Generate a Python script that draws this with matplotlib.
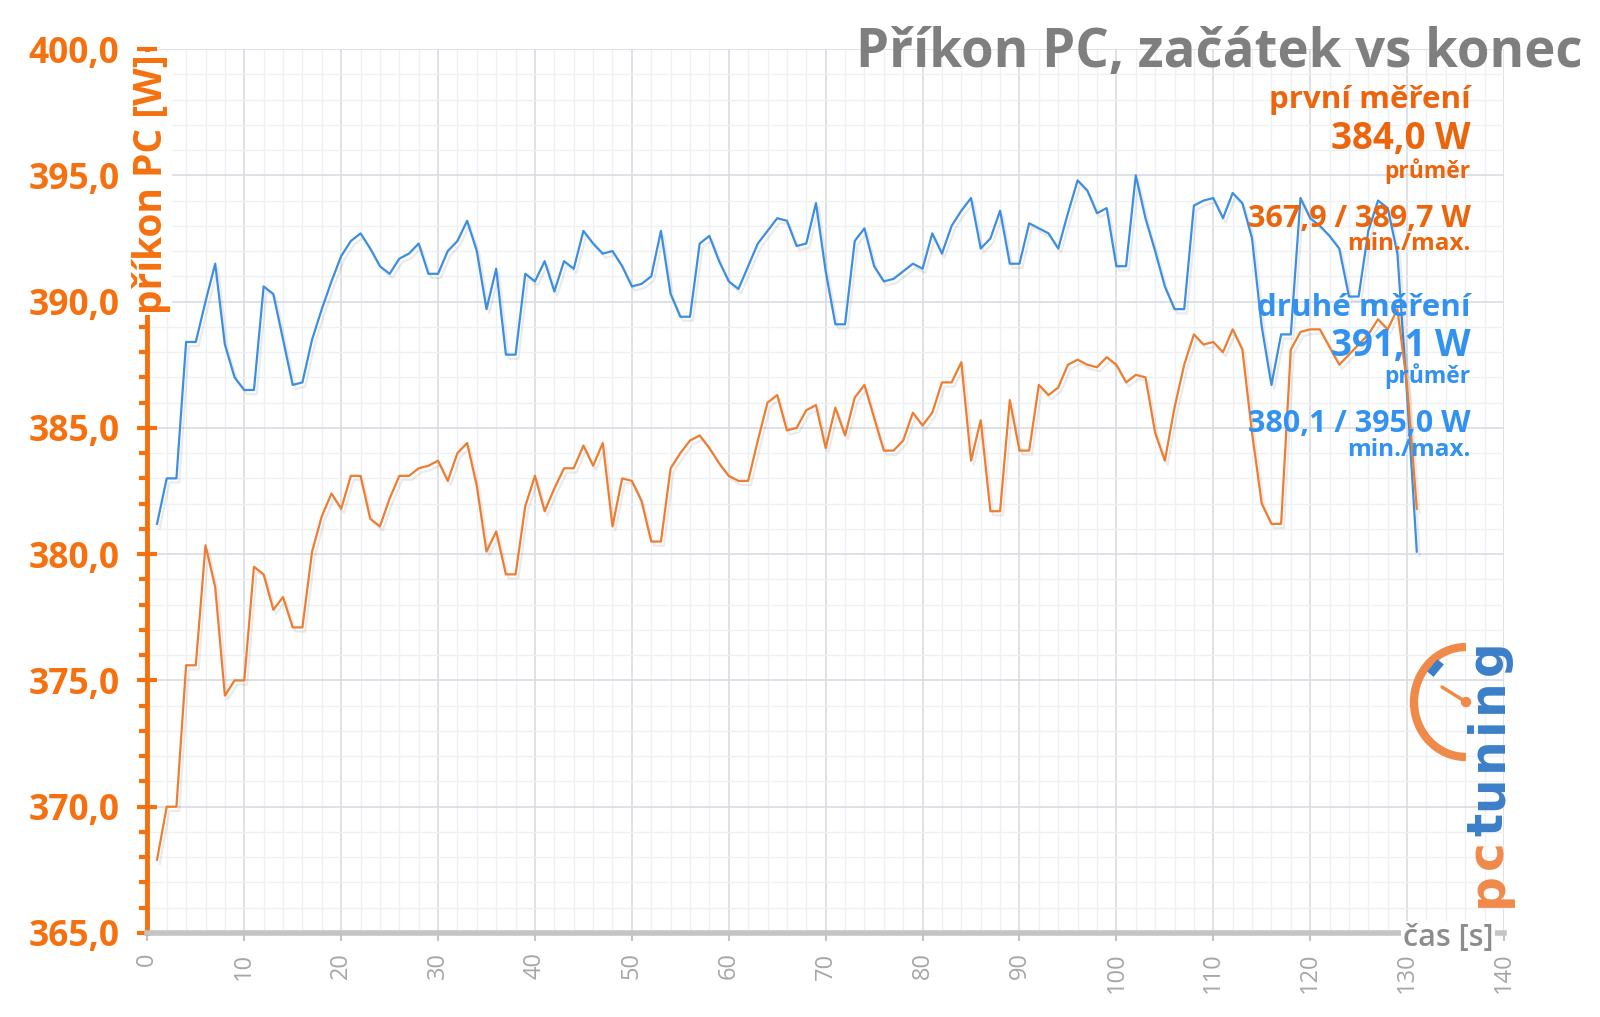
import matplotlib
matplotlib.use("Agg")
import matplotlib.pyplot as plt
import matplotlib.patheffects as pe
from matplotlib.patches import Arc, Circle
from matplotlib.ticker import MultipleLocator, FuncFormatter

plt.rcParams['font.family'] = ['Open Sans', 'DejaVu Sans']

# cas [s]
cas = list(range(1, 132))

# prvni mereni (orange)
prvni = [367.9, 370.0, 370.0, 375.6, 375.6, 380.35, 378.7, 374.4, 375.0, 375.0,
         379.5, 379.2, 377.8, 378.3, 377.1, 377.1, 380.1, 381.5, 382.4, 381.8,
         383.1, 383.1, 381.4, 381.1, 382.2, 383.1, 383.1, 383.4, 383.5, 383.7,
         382.9, 384.0, 384.4, 382.7, 380.1, 380.9, 379.2, 379.2, 381.9, 383.1,
         381.7, 382.6, 383.4, 383.4, 384.3, 383.5, 384.4, 381.1, 383.0, 382.9,
         382.1, 380.5, 380.5, 383.4, 384.0, 384.5, 384.7, 384.2, 383.6, 383.1,
         382.9, 382.9, 384.5, 386.0, 386.3, 384.9, 385.0, 385.7, 385.9, 384.2,
         385.8, 384.7, 386.2, 386.7, 385.4, 384.1, 384.1, 384.5, 385.6, 385.1,
         385.6, 386.8, 386.8, 387.6, 383.7, 385.3, 381.7, 381.7, 386.1, 384.1,
         384.1, 386.7, 386.3, 386.6, 387.5, 387.7, 387.5, 387.4, 387.8, 387.5,
         386.8, 387.1, 387.0, 384.8, 383.7, 385.8, 387.5, 388.7, 388.3, 388.4,
         388.0, 388.9, 388.1, 384.8, 382.0, 381.2, 381.2, 388.1, 388.8, 388.9,
         388.9, 388.2, 387.5, 387.9, 388.3, 388.7, 389.3, 388.9, 389.7, 386.7,
         381.8]

# druhe mereni (blue)
druhe = [381.2, 383.0, 383.0, 388.4, 388.4, 390.0, 391.5, 388.3, 387.0, 386.5,
         386.5, 390.6, 390.3, 388.5, 386.7, 386.8, 388.5, 389.7, 390.8, 391.8,
         392.4, 392.7, 392.1, 391.4, 391.1, 391.7, 391.9, 392.3, 391.1, 391.1,
         392.0, 392.4, 393.2, 392.0, 389.7, 391.3, 387.9, 387.9, 391.1, 390.8,
         391.6, 390.4, 391.6, 391.3, 392.8, 392.3, 391.9, 392.0, 391.4, 390.6,
         390.7, 391.0, 392.8, 390.3, 389.4, 389.4, 392.3, 392.6, 391.6, 390.8,
         390.5, 391.4, 392.3, 392.8, 393.3, 393.2, 392.2, 392.3, 393.9, 391.2,
         389.1, 389.1, 392.4, 392.9, 391.4, 390.8, 390.9, 391.2, 391.5, 391.3,
         392.7, 391.9, 393.0, 393.6, 394.1, 392.1, 392.5, 393.6, 391.5, 391.5,
         393.1, 392.9, 392.7, 392.1, 393.5, 394.8, 394.4, 393.5, 393.7, 391.4,
         391.4, 395.0, 393.3, 392.0, 390.6, 389.7, 389.7, 393.8, 394.0, 394.1,
         393.3, 394.3, 393.9, 392.5, 389.0, 386.7, 388.7, 388.7, 394.1, 393.3,
         393.0, 392.6, 392.1, 390.2, 390.2, 392.8, 394.0, 393.7, 391.9, 386.3,
         380.1]

ORANGE_LINE = '#ED7D31'
BLUE_LINE = '#3D8EE0'
ORANGE_TXT = '#EC640C'
BLUE_TXT = '#3392F0'
AXIS_ORANGE = '#F5700F'

fig = plt.figure(figsize=(16, 10.17), dpi=100)
ax = fig.add_axes([0.0921, 0.0826, 0.8479, 0.8692])

shadow = [pe.SimpleLineShadow(offset=(2, -3), shadow_color='k', alpha=0.08), pe.Normal()]
ax.plot(cas, druhe, color=BLUE_LINE, lw=1.6, path_effects=shadow, zorder=3)
ax.plot(cas, prvni, color=ORANGE_LINE, lw=1.6, path_effects=shadow, zorder=3)

ax.set_xlim(0, 140)
ax.set_ylim(365, 400)
ax.xaxis.set_major_locator(MultipleLocator(10))
ax.xaxis.set_minor_locator(MultipleLocator(2))
ax.yaxis.set_major_locator(MultipleLocator(5))
ax.yaxis.set_minor_locator(MultipleLocator(1))
ax.yaxis.set_major_formatter(FuncFormatter(lambda v, p: f"{v:.1f}".replace('.', ',')))

ax.grid(which='major', color='#D9DCE3', lw=1.2, zorder=0)
ax.grid(which='minor', color='#EEF0F4', lw=1.0, zorder=0)
ax.set_axisbelow(True)

for s in ['top', 'right']:
    ax.spines[s].set_visible(False)
ax.spines['left'].set_color(AXIS_ORANGE)
ax.spines['left'].set_linewidth(3.5)
ax.spines['bottom'].set_color('#C4C4C4')
ax.spines['bottom'].set_linewidth(4)

ax.tick_params(axis='y', which='major', direction='inout', length=14, width=3,
               color=AXIS_ORANGE, labelcolor=AXIS_ORANGE, labelsize=25.5, pad=13)
ax.tick_params(axis='y', which='minor', direction='out', length=6, width=3, color=AXIS_ORANGE)
ax.tick_params(axis='x', which='major', direction='out', length=6, width=1.5,
               color='#C4C4C4', labelcolor='#A6A6A6', labelsize=17, labelrotation=90, pad=8)
ax.tick_params(axis='x', which='minor', length=0)
for lab in ax.get_yticklabels():
    lab.set_fontweight('bold')

# axis labels
fig.text(0.0944, 0.8194, 'příkon PC [W]', rotation=90, ha='center', va='center',
         color=AXIS_ORANGE, fontsize=28, fontweight='bold',
         bbox=dict(facecolor='white', edgecolor='none', pad=1))
fig.text(0.905, 0.078, 'čas [s]', ha='center', va='center', color='#8C8C8C',
         fontsize=22, fontweight='semibold',
         bbox=dict(facecolor='white', edgecolor='none', pad=1))

# title
fig.text(0.989, 0.948, 'Příkon PC, začátek vs konec', ha='right', va='center',
         color='#7F7F7F', fontsize=38, fontweight='bold')

# annotations
xr = 0.919
fig.text(xr, 0.902, 'první měření', ha='right', va='center', color=ORANGE_TXT, fontsize=22.5, fontweight='bold')
fig.text(xr, 0.863, '384,0 W', ha='right', va='center', color=ORANGE_TXT, fontsize=26.5, fontweight='bold')
fig.text(xr, 0.832, 'průměr', ha='right', va='center', color=ORANGE_TXT, fontsize=16.5, fontweight='bold')
fig.text(xr, 0.785, '367,9 / 389,7 W', ha='right', va='center', color=ORANGE_TXT, fontsize=22, fontweight='bold')
fig.text(xr, 0.760, 'min./max.', ha='right', va='center', color=ORANGE_TXT, fontsize=17.5, fontweight='bold')
fig.text(xr, 0.697, 'druhé měření', ha='right', va='center', color=BLUE_TXT, fontsize=22.5, fontweight='bold')
fig.text(xr, 0.660, '391,1 W', ha='right', va='center', color=BLUE_TXT, fontsize=26.5, fontweight='bold')
fig.text(xr, 0.630, 'průměr', ha='right', va='center', color=BLUE_TXT, fontsize=16.5, fontweight='bold')
fig.text(xr, 0.583, '380,1 / 395,0 W', ha='right', va='center', color=BLUE_TXT, fontsize=22, fontweight='bold')
fig.text(xr, 0.558, 'min./max.', ha='right', va='center', color=BLUE_TXT, fontsize=17.5, fontweight='bold')

# logo (pixel units inside a small axes)
lg = fig.add_axes([0.875, 0.1003, 0.075, 0.3097])
lg.set_xlim(0, 120)
lg.set_ylim(0, 315)
lg.axis('off')
lg.add_patch(Arc((66, 213), 104, 110, theta1=90, theta2=270, color='#F08A4B', lw=6))
lg.plot([66, 42], [213, 228], color='#F08A4B', lw=2.5, solid_capstyle='round')
lg.add_patch(Circle((66, 213), 4.5, color='#F08A4B'))
lg.plot([33, 38], [244, 250], color='#3C7FC8', lw=6)
prev = lg.text(88, 8, 'p', rotation=90, ha='center', va='bottom', color='#F08A4B',
               fontsize=35, fontweight='bold', family='DejaVu Sans')
for i, ch in enumerate('ctuning'):
    col = '#F08A4B' if i == 0 else '#3C7FC8'
    prev = lg.annotate(ch, xy=(0.5, 1), xycoords=prev, xytext=(0, 2.5), textcoords='offset points',
                       rotation=90, ha='center', va='bottom', color=col,
                       fontsize=35, fontweight='bold', family='DejaVu Sans')

fig.savefig('out.png', dpi=100)
